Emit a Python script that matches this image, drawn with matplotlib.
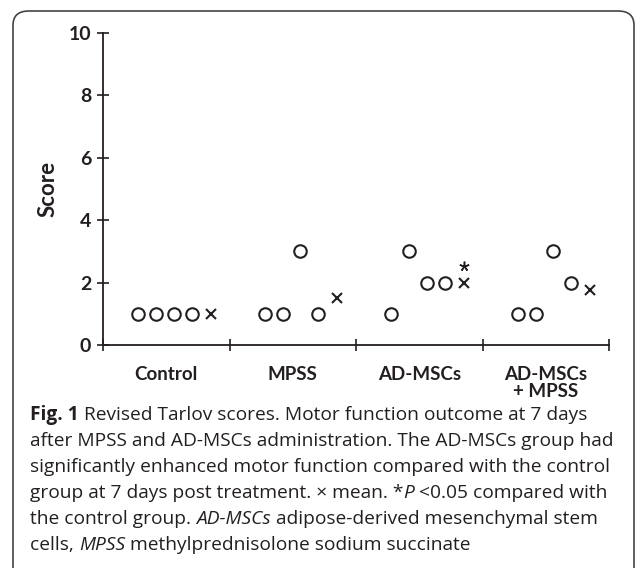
import matplotlib
matplotlib.use("Agg")
import matplotlib.pyplot as plt
from matplotlib.patches import FancyBboxPatch

# data
groups = ["Control", "MPSS", "AD-MSCs", "AD-MSCs\n+ MPSS"]
scores = [
    [1, 1, 1, 1],
    [1, 1, 3, 1],
    [1, 3, 2, 2],
    [1, 1, 3, 2],
]
means = [1.0, 1.5, 2.0, 1.75]
significant = [False, False, True, False]
yticks = [0, 2, 4, 6, 8, 10]

W, H = 635, 568
DPI = 100
INK = "#231f20"

fig = plt.figure(figsize=(W / DPI, H / DPI), dpi=DPI)

# rounded frame around figure + caption
frame = FancyBboxPatch((13 / W, -0.2), (W - 14) / W, 1.2 - 11 / H,
                       boxstyle="round,pad=0,rounding_size=0.025",
                       transform=fig.transFigure, fill=False,
                       edgecolor="#444444", linewidth=1.2)
fig.patches.append(frame)

ax = fig.add_axes([103 / W, (H - 345) / H, 506 / W, 312 / H])
ax.set_xlim(0, len(groups))
ax.set_ylim(0, 10)

# point offsets inside each category (4 animals + mean)
offsets = [0.28, 0.42, 0.56, 0.70]
mean_off = 0.85
for i, vals in enumerate(scores):
    xs = [i + o for o in offsets]
    ax.plot(xs, vals, "o", mfc="none", mec=INK, mew=1.5, ms=9,
            linestyle="none", clip_on=False)
    ax.plot(i + mean_off, means[i], "x", color=INK, mew=1.5, ms=7.5,
            clip_on=False)
    if significant[i]:
        # asterisk above the mean marker
        ax.plot(i + mean_off, means[i] + 0.52, marker=(5, 2, 0), color=INK,
                mew=1.1, ms=7, clip_on=False)

for s in ["top", "right"]:
    ax.spines[s].set_visible(False)
for s in ["left", "bottom"]:
    ax.spines[s].set_color(INK)
    ax.spines[s].set_linewidth(1.3)

ax.set_yticks(yticks)
ax.set_yticklabels([str(t) for t in yticks], fontsize=14, fontweight="bold",
                   family="Lato", color=INK)
ax.tick_params(axis="y", direction="inout", length=9, width=1.2, color=INK, pad=4)

ax.set_xticks(range(len(groups) + 1))
ax.set_xticklabels([])
ax.tick_params(axis="x", which="major", direction="inout", length=9, width=1.2,
               color=INK)
ax.set_xticks([i + 0.5 for i in range(len(groups))], minor=True)
ax.set_xticklabels(groups, minor=True, fontsize=13.5, fontweight="bold",
                   family="Lato", color=INK, linespacing=1.0)
ax.tick_params(axis="x", which="minor", length=0, pad=15)

ax.set_ylabel("Score", fontsize=16, fontweight="bold", family="Lato",
              color=INK, labelpad=7)

# caption with mixed styles, drawn run by run
caption = [
    [("Fig. 1", "normal", "bold"),
     (" Revised Tarlov scores. Motor function outcome at 7 days", "normal", "normal")],
    [("after MPSS and AD-MSCs administration. The AD-MSCs group had", "normal", "normal")],
    [("significantly enhanced motor function compared with the control", "normal", "normal")],
    [("group at 7 days post treatment. \u00d7 mean. *", "normal", "normal"),
     ("P", "italic", "normal"),
     (" <0.05 compared with", "normal", "normal")],
    [("the control group. ", "normal", "normal"),
     ("AD-MSCs", "italic", "normal"),
     (" adipose-derived mesenchymal stem", "normal", "normal")],
    [("cells, ", "normal", "normal"),
     ("MPSS", "italic", "normal"),
     (" methylprednisolone sodium succinate", "normal", "normal")],
]

renderer = fig.canvas.get_renderer()
x0 = 30
y_base = 420
line_step = 26
for k, runs in enumerate(caption):
    x = x0
    y = y_base + k * line_step
    for txt, style, weight in runs:
        t = fig.text(x / W, 1 - y / H, txt, fontsize=13.8, family="Open Sans",
                     style=style, fontweight=weight, color=INK,
                     ha="left", va="baseline")
        bb = t.get_window_extent(renderer=renderer)
        x += bb.width

fig.savefig("out.png", dpi=DPI)
